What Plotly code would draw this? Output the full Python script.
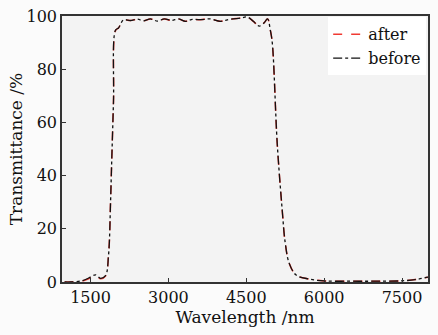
import plotly.graph_objects as go

wavelength = [1000, 1115, 1346, 1462, 1596, 1692, 1788, 1846, 1885, 1904, 1942, 1981, 2038, 2135,
              2269, 2404, 2519, 2654, 2788, 2923, 3058, 3192, 3327, 3461, 3615, 3808, 4000,
              4192, 4385, 4519, 4635, 4750, 4846, 4904, 4923, 4960, 5000, 5096, 5192, 5250,
              5327, 5461, 5711, 6000, 6500, 7000, 7461, 7750, 8000]
after = [0.0, 0.0, 0.4, 1.2, 2.4, 1.2, 2.2, 10.0, 30.0, 43.0, 68.0, 94.5, 95.5, 98.4,
         98.3, 98.8, 98.2, 98.9, 98.1, 98.9, 98.3, 98.9, 98.0, 98.7, 98.6, 98.9, 98.0,
         98.8, 99.2, 99.6, 98.0, 96.2, 97.5, 98.9, 98.6, 95.0, 90.0, 52.0, 27.0, 14.7,
         7.0, 2.6, 1.1, 0.4, 0.3, 0.3, 0.4, 0.9, 1.8]
before = [0.0, 0.0, 0.5, 1.5, 2.7, 1.4, 2.4, 10.0, 30.0, 43.0, 68.0, 94.7, 95.5, 98.5,
          98.3, 98.8, 98.2, 98.9, 98.1, 98.9, 98.3, 98.9, 98.0, 98.7, 98.6, 98.9, 98.0,
          98.8, 99.2, 99.6, 98.0, 96.2, 97.5, 98.9, 98.6, 95.0, 90.0, 52.0, 27.0, 14.7,
          7.0, 2.6, 1.1, 0.4, 0.3, 0.3, 0.4, 0.9, 1.8]

x_ticks = [1500, 3000, 4500, 6000, 7500]
y_ticks = [0, 20, 40, 60, 80, 100]

font_family = "DejaVu Serif, Liberation Serif, serif"

fig = go.Figure()
fig.add_trace(go.Scatter(x=wavelength, y=after, mode="lines", name="after",
                         line=dict(color="#f03a32", width=1.5, dash="dash", shape="spline")))
fig.add_trace(go.Scatter(x=wavelength, y=before, mode="lines", name="before",
                         line=dict(color="#111111", width=1.3, dash="dashdot", shape="spline")))

axis_common = dict(showline=True, linecolor="#333333", linewidth=1.5, mirror=True,
                   ticks="inside", ticklen=4, tickcolor="#333333", showgrid=False,
                   zeroline=False, automargin=False,
                   tickfont=dict(size=16, color="#111111", family=font_family))

fig.update_layout(
    width=438, height=335,
    margin=dict(l=62, r=10, t=16, b=53),
    paper_bgcolor="#fbfbfb",
    plot_bgcolor="#f3f3f3",
    font=dict(family=font_family, color="#111111", size=17),
    xaxis=dict(range=[950, 8000], tickvals=x_ticks,
               title=dict(text="Wavelength /nm", font=dict(size=17), standoff=2),
               **axis_common),
    yaxis=dict(range=[0, 100], tickvals=y_ticks,
               title=dict(text="Transmittance /%", font=dict(size=17), standoff=0),
               **axis_common),
    legend=dict(x=0.995, y=0.995, xanchor="right", yanchor="top",
                bgcolor="#ffffff", borderwidth=0, font=dict(size=16),
                itemwidth=30, tracegroupgap=0),
    showlegend=True,
)

fig.write_html("out.html", config={"displayModeBar": False},
               post_script="document.body.style.margin='0';")
